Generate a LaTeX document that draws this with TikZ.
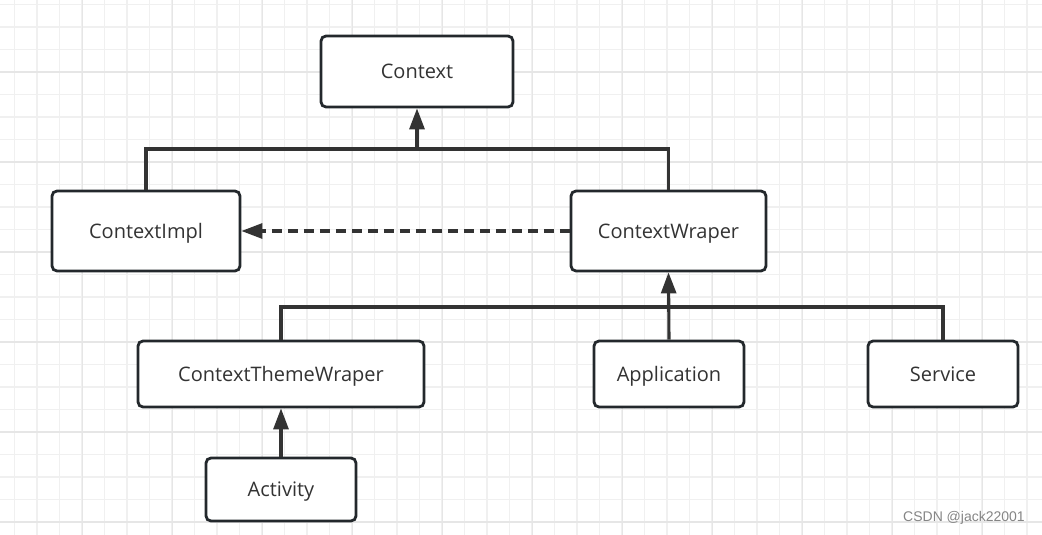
\documentclass[tikz,border=0pt]{standalone}
\usepackage{fontspec}
\setmainfont{Open Sans}
\newfontfamily\wmfont{Liberation Sans}
\usetikzlibrary{arrows.meta}
\definecolor{minorgrid}{HTML}{F0F0F0}
\definecolor{majorgrid}{HTML}{E6E6E6}
\definecolor{boxline}{HTML}{23282C}
\definecolor{txt}{HTML}{333333}
\definecolor{wm}{HTML}{858585}
\tikzset{
  cls/.style={draw=boxline, line width=2.8pt, rounded corners=5pt, fill=white,
    text=txt, font=\fontsize{20}{24}\selectfont, inner sep=0pt, anchor=center,
    text height=14.3pt, text depth=0pt},
  conn/.style={draw=txt, line width=3.1pt},
  inh/.style={conn, -{Triangle[length=21pt,width=15pt]}},
  dep/.style={conn, dash pattern=on 10pt off 6pt, -{Triangle[length=21pt,width=15pt]}}
}
\begin{document}
\begin{tikzpicture}[x=1pt,y=-1pt]
\useasboundingbox (0,0) rectangle (1042,535);
\fill[white] (0,0) rectangle (1042,535);
% grid
\foreach \i in {0,...,46} {
  \pgfmathsetmacro\xx{14.5+22.5*\i}
  \draw[minorgrid, line width=1.2pt] (\xx,0) -- (\xx,535);
}
\foreach \j in {0,...,23} {
  \pgfmathsetmacro\yy{4.5+22.5*\j}
  \draw[minorgrid, line width=1.2pt] (0,\yy) -- (1042,\yy);
}
\foreach \i in {0,...,11} {
  \pgfmathsetmacro\xx{-7.5+90*\i}
  \draw[majorgrid, line width=1.2pt] (\xx,0) -- (\xx,535);
}
\foreach \j in {0,...,6} {
  \pgfmathsetmacro\yy{-18+90*\j}
  \draw[majorgrid, line width=1.2pt] (0,\yy) -- (1042,\yy);
}
% nodes
\node[cls, minimum width=192pt, minimum height=71pt] (context) at (417,71.5) {Context};
\node[cls, minimum width=188pt, minimum height=80pt] (impl) at (146,231) {ContextImpl};
\node[cls, minimum width=195pt, minimum height=80pt] (wrap) at (668.5,231) {ContextWraper};
\node[cls, minimum width=286pt, minimum height=66pt] (theme) at (281,374) {ContextThemeWraper};
\node[cls, minimum width=150pt, minimum height=66pt] (app) at (669,374) {Application};
\node[cls, minimum width=150pt, minimum height=66pt] (service) at (943,374) {Service};
\node[cls, minimum width=150pt, minimum height=63pt] (activity) at (281,489.5) {Activity};
% connector junctions
\coordinate (j1) at (417,149);
\coordinate (j2) at (669,307);
% top tree
\draw[conn] (impl.north) |- (j1) -| (wrap.north);
\draw[inh] (j1) -- (context.south);
% dashed dependency
\draw[dep] (wrap.west) -- (impl.east);
% second tree
\draw[conn] (theme.north) |- (j2) -| (service.north);
\draw[inh] (app.north) -- (wrap.south);
\draw[inh] (activity.north) -- (theme.south);
% watermark
\node[text=wm, font=\wmfont\fontsize{14}{16}\selectfont, anchor=center] (wmk) at (964,518) {CSDN @jack22001};
\end{tikzpicture}
\end{document}
